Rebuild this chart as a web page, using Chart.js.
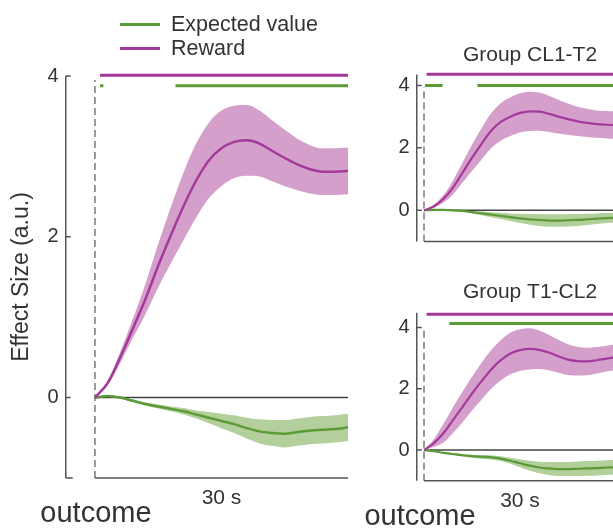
<!DOCTYPE html>
<html>
<head>
<meta charset="utf-8">
<script src="https://cdn.jsdelivr.net/npm/chart.js@4.4.1/dist/chart.umd.min.js"></script>
<style>
  html, body { margin: 0; padding: 0; background: #fff; overflow: hidden; }
  #wrap { position: relative; width: 613px; height: 528px; overflow: hidden; }
  #wrap canvas { position: absolute; }
  #legend { position: absolute; left: 120px; top: 12px; z-index: 2;
            font: 21.5px "Liberation Sans", Arial, sans-serif; color: #333; }
  #legend .item { display: flex; align-items: center; height: 24px; }
  #legend .swatch { width: 40px; height: 3px; margin-right: 11px; }
</style>
</head>
<body>
<div id="wrap">
  <div id="legend">
    <div class="item"><span class="swatch" style="background:#5a9a37"></span>Expected value</div>
    <div class="item"><span class="swatch" style="background:#a4399b"></span>Reward</div>
  </div>
  <canvas id="all" width="360" height="528" style="left:0;top:0"></canvas>
  <canvas id="cl1t2" width="340" height="260" style="left:360px;top:0"></canvas>
  <canvas id="t1cl2" width="340" height="268" style="left:360px;top:260px"></canvas>
</div>
<script>
// time after outcome (s)
const time = [0, 3, 6, 9, 12, 15, 18, 21, 24, 27, 30, 33, 36, 39, 42, 45, 48, 51, 54, 57, 60];

// all subjects
const allRewardMean = [0, 0.18, 0.5, 0.86, 1.23, 1.64, 2.02, 2.38, 2.7, 2.95, 3.1, 3.18, 3.2, 3.16, 3.07, 2.98, 2.9, 2.84, 2.81, 2.81, 2.82];
const allRewardSem  = [0, 0.03, 0.07, 0.12, 0.19, 0.27, 0.35, 0.42, 0.46, 0.47, 0.47, 0.45, 0.44, 0.41, 0.38, 0.35, 0.32, 0.3, 0.29, 0.29, 0.29];
const allValueMean  = [0, 0.02, 0, -0.04, -0.08, -0.11, -0.14, -0.17, -0.21, -0.25, -0.29, -0.33, -0.38, -0.42, -0.44, -0.45, -0.43, -0.41, -0.4, -0.39, -0.37];
const allValueSem   = [0, 0.005, 0.01, 0.015, 0.02, 0.025, 0.03, 0.04, 0.05, 0.07, 0.09, 0.11, 0.13, 0.15, 0.16, 0.17, 0.17, 0.17, 0.17, 0.17, 0.17];

// group CL1-T2
const cl1t2RewardMean = [0, 0.12, 0.36, 0.72, 1.2, 1.68, 2.13, 2.55, 2.83, 3.0, 3.12, 3.17, 3.16, 3.09, 3.0, 2.92, 2.85, 2.8, 2.76, 2.74, 2.73];
const cl1t2RewardSem  = [0, 0.05, 0.12, 0.22, 0.32, 0.42, 0.5, 0.56, 0.6, 0.62, 0.63, 0.63, 0.61, 0.58, 0.54, 0.5, 0.47, 0.45, 0.44, 0.44, 0.44];
const cl1t2ValueMean  = [0, 0.01, 0.01, 0, -0.02, -0.06, -0.1, -0.14, -0.18, -0.22, -0.26, -0.29, -0.31, -0.33, -0.33, -0.32, -0.31, -0.29, -0.27, -0.25, -0.24];
const cl1t2ValueSem   = [0, 0.005, 0.01, 0.02, 0.03, 0.04, 0.06, 0.08, 0.1, 0.12, 0.15, 0.17, 0.19, 0.2, 0.2, 0.2, 0.19, 0.18, 0.17, 0.16, 0.15];

// group T1-CL2
const t1cl2RewardMean = [0, 0.22, 0.54, 0.97, 1.4, 1.84, 2.25, 2.63, 2.93, 3.15, 3.26, 3.3, 3.27, 3.18, 3.06, 2.95, 2.9, 2.89, 2.93, 2.98, 3.03];
const t1cl2RewardSem  = [0, 0.12, 0.3, 0.42, 0.5, 0.55, 0.6, 0.63, 0.66, 0.68, 0.68, 0.67, 0.63, 0.58, 0.54, 0.5, 0.47, 0.45, 0.43, 0.42, 0.42];
const t1cl2ValueMean  = [0, -0.04, -0.09, -0.13, -0.17, -0.2, -0.22, -0.24, -0.28, -0.35, -0.43, -0.51, -0.57, -0.6, -0.62, -0.62, -0.61, -0.6, -0.59, -0.57, -0.56];
const t1cl2ValueSem   = [0, 0.01, 0.02, 0.03, 0.04, 0.05, 0.06, 0.07, 0.08, 0.1, 0.13, 0.16, 0.19, 0.21, 0.23, 0.23, 0.24, 0.24, 0.24, 0.24, 0.24];

// significant time windows [start, end] in s
const allRewardSig   = [[1.2, 60]];
const allValueSig    = [[1.2, 2.0], [19.1, 60]];
const cl1t2RewardSig = [[0.8, 60]];
const cl1t2ValueSig  = [[0.3, 5.8], [16.7, 60]];
const t1cl2RewardSig = [[0.8, 60]];
const t1cl2ValueSig  = [[7.9, 60]];

const yTicks = [0, 2, 4];

const REWARD = '#a4399b', REWARD_BAND = '#d4a0cb';
const VALUE = '#5a9a37', VALUE_BAND = '#b3d09c';
const FONT = '"Liberation Sans", Arial, sans-serif';

Chart.defaults.font.family = FONT;
Chart.defaults.color = '#333';

const pts = (ys) => time.map((t, i) => ({ x: t, y: ys[i] }));
const band = (m, s, sign) => time.map((t, i) => ({ x: t, y: m[i] + sign * s[i] }));

function sigSegments(intervals, level) {
  const out = [];
  intervals.forEach(([a, b], i) => {
    if (i) out.push({ x: (out[out.length - 1].x + a) / 2, y: null });
    out.push({ x: a, y: level }, { x: b, y: level });
  });
  return out;
}

// spine with inward ticks, x axis from onset, and the onset label
const axesPlugin = {
  id: 'axes',
  afterDraw(chart, args, opts) {
    const { ctx, chartArea: area, scales: { x, y } } = chart;
    const sx = area.left + 0.75;
    const by = y.getPixelForValue(y.min);
    ctx.save();
    ctx.strokeStyle = '#555';
    ctx.lineWidth = 1.5;
    ctx.beginPath();
    ctx.moveTo(sx, y.getPixelForValue(y.max));
    ctx.lineTo(sx, by);
    y.ticks.forEach(t => {
      const py = y.getPixelForValue(t.value);
      ctx.moveTo(sx, py);
      ctx.lineTo(sx + 5, py);
    });
    if (opts.bottomTick) {
      ctx.moveTo(sx, by);
      ctx.lineTo(sx + 7, by);
    }
    ctx.moveTo(x.getPixelForValue(0), by);
    ctx.lineTo(area.right, by);
    ctx.stroke();
    if (opts.onsetLabel) {
      ctx.fillStyle = '#333';
      ctx.font = '29px ' + FONT;
      ctx.textAlign = 'center';
      ctx.textBaseline = 'middle';
      ctx.fillText(opts.onsetLabel, x.getPixelForValue(0) + opts.labelShift, by + 36);
    }
    ctx.restore();
  }
};

function makePanel(p) {
  const line = (data, color, width) => ({
    data, borderColor: color, borderWidth: width, pointRadius: 0,
    cubicInterpolationMode: 'monotone', fill: false, order: 0
  });
  const edge = (data, color, fill) => ({
    data, borderWidth: 0, borderColor: 'transparent', backgroundColor: color, pointRadius: 0,
    cubicInterpolationMode: 'monotone', fill: fill, order: 3
  });

  const datasets = [
    line(pts(p.rewardMean), REWARD, p.lineWidth),
    line(pts(p.valueMean), VALUE, p.lineWidth),
    edge(band(p.rewardMean, p.rewardSem, 1), REWARD_BAND, '+1'),
    edge(band(p.rewardMean, p.rewardSem, -1), REWARD_BAND, false),
    edge(band(p.valueMean, p.valueSem, 1), VALUE_BAND, '+1'),
    edge(band(p.valueMean, p.valueSem, -1), VALUE_BAND, false),
    // zero line
    { data: [{ x: 0, y: 0 }, { x: p.xMax, y: 0 }], borderColor: '#444', borderWidth: 1.5,
      pointRadius: 0, order: 2 },
    // outcome onset
    { data: [{ x: 0, y: -1 }, { x: 0, y: 3.95 }], borderColor: '#777', borderWidth: 1.5,
      borderDash: [7, 4], pointRadius: 0, order: 2 },
    // significance bars
    { data: sigSegments(p.rewardSig, p.rewardSigLevel), borderColor: REWARD, borderWidth: 3,
      pointRadius: 0, clip: false, order: 1 },
    { data: sigSegments(p.valueSig, p.valueSigLevel), borderColor: VALUE, borderWidth: 3,
      pointRadius: 0, clip: false, order: 1 }
  ];

  new Chart(document.getElementById(p.canvas), {
    type: 'line',
    data: { datasets },
    plugins: [axesPlugin],
    options: {
      responsive: false,
      animation: false,
      layout: { padding: p.padding },
      plugins: {
        legend: { display: false },
        tooltip: { enabled: false },
        title: {
          display: !!p.title, text: p.title,
          font: { size: 21, weight: 'normal' }, color: '#333',
          padding: p.titlePadding
        },
        axes: { onsetLabel: p.onsetLabel, labelShift: p.labelShift, bottomTick: p.bottomTick }
      },
      scales: {
        x: {
          type: 'linear', min: p.xMin, max: p.xMax,
          border: { display: false },
          grid: { display: false, drawTicks: false },
          afterBuildTicks: s => { s.ticks = p.showX ? [{ value: 30 }] : []; },
          ticks: {
            display: p.showX, autoSkip: false, maxRotation: 0,
            callback: v => (v === 30 ? '30 s' : ''),
            font: { size: 21 }, color: '#333', padding: 7.5
          },
          afterFit: s => { s.height = p.xHeight; }
        },
        y: {
          min: -1, max: p.yMax,
          border: { display: false },
          grid: { display: false, drawTicks: false },
          afterBuildTicks: s => { s.ticks = yTicks.map(v => ({ value: v })); },
          ticks: { font: { size: 20 }, color: '#333', padding: 6.5 },
          title: {
            display: !!p.yTitle, text: p.yTitle,
            font: { size: 23 }, color: '#333', padding: { top: 8, bottom: 0 }
          },
          afterFit: s => { s.width = p.yWidth; }
        }
      }
    }
  });
}

makePanel({
  canvas: 'all',
  rewardMean: allRewardMean, rewardSem: allRewardSem,
  valueMean: allValueMean, valueSem: allValueSem,
  rewardSig: allRewardSig, valueSig: allValueSig,
  rewardSigLevel: 4.01, valueSigLevel: 3.88,
  xMin: -7.1, xMax: 60, yMax: 4,
  padding: { top: 76, right: 12, left: 0, bottom: 0 },
  yWidth: 65, xHeight: 50, lineWidth: 2.5,
  showX: true, onsetLabel: 'outcome', labelShift: 1, bottomTick: true,
  yTitle: 'Effect Size (a.u.)'
});

makePanel({
  canvas: 'cl1t2', title: 'Group CL1-T2',
  rewardMean: cl1t2RewardMean, rewardSem: cl1t2RewardSem,
  valueMean: cl1t2ValueMean, valueSem: cl1t2ValueSem,
  rewardSig: cl1t2RewardSig, valueSig: cl1t2ValueSig,
  rewardSigLevel: 4.36, valueSigLevel: 4.0,
  xMin: -2.5, xMax: 86.25, yMax: 4.35,
  padding: { top: 40, right: 0, left: 0, bottom: 0 },
  titlePadding: { top: 2.4, bottom: 6.9 },
  yWidth: 56, xHeight: 12.7, lineWidth: 2.2,
  showX: false
});

makePanel({
  canvas: 't1cl2', title: 'Group T1-CL2',
  rewardMean: t1cl2RewardMean, rewardSem: t1cl2RewardSem,
  valueMean: t1cl2ValueMean, valueSem: t1cl2ValueSem,
  rewardSig: t1cl2RewardSig, valueSig: t1cl2ValueSig,
  rewardSigLevel: 4.43, valueSigLevel: 4.13,
  xMin: -2.5, xMax: 86.25, yMax: 4.48,
  padding: { top: 18, right: 0, left: 0, bottom: 0 },
  titlePadding: { top: 2.1, bottom: 7.4 },
  yWidth: 56, xHeight: 47.3, lineWidth: 2.2,
  showX: true, onsetLabel: 'outcome', labelShift: -4
});
</script>
</body>
</html>
